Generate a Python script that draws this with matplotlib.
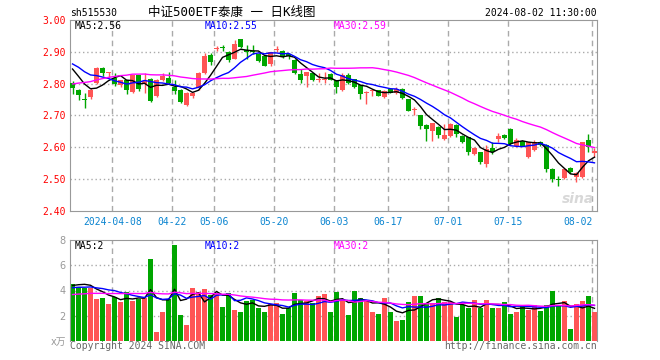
import numpy as np
import matplotlib
matplotlib.use("Agg")
import matplotlib.pyplot as plt

plt.rcParams['font.family'] = ['DejaVu Sans Mono', 'Noto Sans CJK SC']

# daily candles 2024-03-26 .. 2024-08-02 (88 trading days)
opens = [2.803, 2.779, 2.752, 2.758, 2.803, 2.848, 2.833, 2.819, 2.795, 2.811,
         2.775, 2.826, 2.800, 2.815, 2.761, 2.811, 2.817, 2.790, 2.780, 2.732,
         2.760, 2.787, 2.832, 2.890, 2.910, 2.914, 2.900, 2.878, 2.939, 2.905,
         2.903, 2.892, 2.886, 2.862, 2.907, 2.902, 2.893, 2.873, 2.829, 2.824,
         2.832, 2.812, 2.811, 2.829, 2.811, 2.781, 2.826, 2.814, 2.795, 2.770,
         2.777, 2.779, 2.758, 2.782, 2.772, 2.784, 2.751, 2.718, 2.701, 2.670,
         2.652, 2.663, 2.626, 2.636, 2.670, 2.636, 2.631, 2.579, 2.584, 2.548,
         2.597, 2.626, 2.639, 2.657, 2.603, 2.621, 2.569, 2.593, 2.616, 2.607,
         2.532, 2.500, 2.503, 2.534, 2.506, 2.506, 2.623, 2.583]
highs = [2.808, 2.782, 2.772, 2.786, 2.852, 2.853, 2.836, 2.834, 2.812, 2.813,
         2.828, 2.828, 2.834, 2.817, 2.815, 2.834, 2.837, 2.810, 2.782, 2.774,
         2.775, 2.836, 2.895, 2.895, 2.918, 2.923, 2.902, 2.938, 2.941, 2.923,
         2.923, 2.896, 2.888, 2.901, 2.918, 2.905, 2.896, 2.878, 2.845, 2.838,
         2.834, 2.834, 2.837, 2.834, 2.813, 2.835, 2.834, 2.816, 2.797, 2.777,
         2.782, 2.781, 2.779, 2.784, 2.790, 2.786, 2.752, 2.728, 2.703, 2.672,
         2.678, 2.668, 2.673, 2.675, 2.673, 2.638, 2.633, 2.600, 2.586, 2.607,
         2.616, 2.645, 2.641, 2.660, 2.628, 2.623, 2.618, 2.623, 2.621, 2.609,
         2.534, 2.511, 2.535, 2.537, 2.522, 2.618, 2.641, 2.597]
lows = [2.769, 2.749, 2.724, 2.751, 2.800, 2.824, 2.822, 2.793, 2.790, 2.767,
        2.772, 2.778, 2.772, 2.743, 2.758, 2.808, 2.799, 2.767, 2.739, 2.730,
        2.755, 2.780, 2.831, 2.860, 2.902, 2.902, 2.869, 2.876, 2.913, 2.876,
        2.892, 2.868, 2.855, 2.857, 2.899, 2.881, 2.876, 2.830, 2.803, 2.790,
        2.808, 2.805, 2.803, 2.811, 2.772, 2.778, 2.800, 2.786, 2.751, 2.737,
        2.761, 2.760, 2.755, 2.770, 2.768, 2.752, 2.713, 2.701, 2.657, 2.621,
        2.621, 2.628, 2.624, 2.634, 2.632, 2.614, 2.576, 2.576, 2.548, 2.537,
        2.579, 2.616, 2.626, 2.608, 2.600, 2.603, 2.567, 2.590, 2.603, 2.522,
        2.490, 2.480, 2.501, 2.520, 2.490, 2.504, 2.586, 2.569]
closes = [2.786, 2.765, 2.750, 2.779, 2.850, 2.834, 2.834, 2.798, 2.810, 2.780,
          2.826, 2.782, 2.808, 2.746, 2.813, 2.824, 2.801, 2.777, 2.743, 2.772,
          2.770, 2.834, 2.886, 2.869, 2.912, 2.912, 2.874, 2.926, 2.916, 2.899,
          2.901, 2.871, 2.857, 2.899, 2.910, 2.884, 2.888, 2.834, 2.810, 2.837,
          2.811, 2.814, 2.815, 2.813, 2.790, 2.827, 2.803, 2.790, 2.767, 2.772,
          2.781, 2.762, 2.777, 2.772, 2.782, 2.754, 2.715, 2.721, 2.668, 2.657,
          2.676, 2.639, 2.639, 2.673, 2.642, 2.616, 2.586, 2.597, 2.555, 2.595,
          2.586, 2.636, 2.628, 2.610, 2.623, 2.605, 2.616, 2.618, 2.607, 2.532,
          2.499, 2.498, 2.532, 2.522, 2.519, 2.616, 2.600, 2.588]
# volume, 万手
volumes = [4.49, 4.30, 4.22, 4.22, 3.36, 3.44, 2.96, 3.49, 3.12, 3.87,
           3.20, 3.36, 3.41, 6.50, 0.73, 2.31, 3.33, 7.64, 2.02, 1.29,
           4.17, 3.92, 4.09, 3.68, 3.76, 2.72, 3.84, 2.47, 2.31, 3.20,
           3.28, 2.63, 2.31, 2.90, 3.01, 2.15, 2.63, 3.84, 3.23, 3.20,
           2.98, 3.60, 3.71, 2.31, 3.85, 3.28, 2.07, 4.00, 3.44, 3.23,
           2.31, 2.15, 3.44, 2.31, 1.59, 1.67, 3.12, 3.60, 3.53, 3.04,
           3.04, 3.44, 3.12, 3.12, 1.91, 2.88, 2.64, 3.28, 2.64, 3.28,
           2.64, 2.64, 3.12, 2.15, 2.31, 2.88, 2.48, 2.88, 2.40, 2.88,
           3.93, 2.80, 3.20, 0.94, 2.96, 3.20, 3.53, 2.31]

# days before the window, only used to warm up the moving averages
prior_closes = [2.68, 2.69, 2.70, 2.69, 2.71, 2.72, 2.71, 2.73, 2.74, 2.73,
                2.78, 2.80, 2.81, 2.83, 2.82, 2.84, 2.83, 2.85, 2.84, 2.85,
                2.87, 2.89, 2.88, 2.87, 2.88, 2.88, 2.87, 2.854, 2.84]
prior_volumes = [3.2, 3.6, 3.0, 3.5, 3.3, 3.8, 3.1, 3.4, 3.6, 3.2,
                 3.5, 3.3, 3.7, 3.4, 3.2, 3.6, 3.5, 3.3, 3.4, 3.6,
                 3.9, 4.2, 4.0, 4.1, 4.0, 4.0, 4.06, 4.6, 4.84]

tick_idx = [7, 17, 24, 34, 44, 53, 63, 73, 87]
tick_labels = ['2024-04-08', '04-22', '05-06', '05-20', '06-03',
               '06-17', '07-01', '07-15', '08-02']

RED = '#ff5555'
GREEN = '#00a600'
GRID = '#aaaaaa'
W, H = 660, 360


def moving_avg(prior, values, n):
    full = np.concatenate([prior, values])
    out = np.convolve(full, np.ones(n) / n, mode='valid')
    return out[-len(values):]


o, h, l, c = (np.array(a) for a in (opens, highs, lows, closes))
vol = np.array(volumes)
x = np.arange(len(c))
colors = np.where(c >= o, RED, GREEN)

fig = plt.figure(figsize=(W / 100, H / 100), dpi=100)
ax = fig.add_axes([70 / W, 1 - 211 / H, 527 / W, 191 / H])
axv = fig.add_axes([70 / W, 1 - 341 / H, 527 / W, 101 / H])

gx = np.array(tick_idx) - 0.35
for a in (ax, axv):
    a.set_xlim(-0.42, 87.42)
    for g in gx:
        a.axvline(g, color=GRID, lw=1, ls=(0, (4, 3)), zorder=0)
    for s in a.spines.values():
        s.set_color('#999999')
    a.tick_params(length=0)
axv.spines['bottom'].set_visible(False)

# ---- price panel
ax.set_ylim(2.40, 3.00)
for p in (2.5, 2.6, 2.7, 2.8, 2.9):
    ax.axhline(p, color=GRID, lw=1, ls=(0, (1, 2)), zorder=0)
ax.vlines(x, l, h, colors=colors, lw=1, zorder=2)
body = np.maximum(np.abs(c - o), 0.003)
ax.bar(x, body, bottom=np.minimum(o, c), width=0.8, color=colors, lw=0, zorder=3)
ax.plot(x, moving_avg(prior_closes, c, 5), color='black', lw=1, zorder=4)
ax.plot(x, moving_avg(prior_closes, c, 10), color='blue', lw=1, zorder=4)
ax.plot(x, moving_avg(prior_closes, c, 30), color='magenta', lw=1, zorder=4)

ax.set_yticks([2.4, 2.5, 2.6, 2.7, 2.8, 2.9, 3.0])
ax.set_yticklabels([f'{v:.2f}' for v in ax.get_yticks()], color='red', fontsize=7)
ax.tick_params(axis='y', pad=3)
ax.set_xticks(gx)
ax.set_xticklabels(tick_labels, color='#0a84d0', fontsize=7)
ax.tick_params(axis='x', pad=4.5)
ax.get_xticklabels()[-1].set_ha('right')

ax.text(5 / 527, 1 - 6 / 191, 'MA5:2.56', transform=ax.transAxes, fontsize=7, va='center')
ax.text(135 / 527, 1 - 6 / 191, 'MA10:2.55', transform=ax.transAxes, fontsize=7,
        va='center', color='blue')
ax.text(264 / 527, 1 - 6 / 191, 'MA30:2.59', transform=ax.transAxes, fontsize=7,
        va='center', color='magenta')
ax.text(0.995, 0.04, 'sina', transform=ax.transAxes, fontsize=10, ha='right',
        color='#d8d8d8', fontweight='bold', style='italic', family='DejaVu Sans')

# ---- volume panel
axv.set_ylim(0, 8)
for p in (2, 4, 6):
    axv.axhline(p, color=GRID, lw=1, ls=(0, (1, 2)), zorder=0)
axv.bar(x, vol, width=0.8, color=colors, lw=0, zorder=2)
axv.plot(x, moving_avg(prior_volumes, vol, 5), color='black', lw=1, zorder=4)
axv.plot(x, moving_avg(prior_volumes, vol, 10), color='blue', lw=1, zorder=4)
axv.plot(x, moving_avg(prior_volumes, vol, 30), color='magenta', lw=1, zorder=4)
axv.set_xticks(gx)
axv.set_xticklabels([])
axv.set_yticks([0, 2, 4, 6, 8])
axv.set_yticklabels(['x万', '2', '4', '6', '8'], color='#999999', fontsize=7,
                    family=['DejaVu Sans', 'Noto Sans CJK SC'])
axv.tick_params(axis='y', pad=3)

axv.text(5 / 527, 1 - 6 / 101, 'MA5:2', transform=axv.transAxes, fontsize=7, va='center')
axv.text(135 / 527, 1 - 6 / 101, 'MA10:2', transform=axv.transAxes, fontsize=7,
         va='center', color='blue')
axv.text(264 / 527, 1 - 6 / 101, 'MA30:2', transform=axv.transAxes, fontsize=7,
         va='center', color='magenta')

# ---- header / footer
fig.text(70 / W, 1 - 13 / H, 'sh515530', fontsize=7, va='center')
fig.text(232 / W, 1 - 12 / H, '中证500ETF泰康 一 日K线图', fontsize=9, va='center', ha='center')
fig.text(597 / W, 1 - 13 / H, '2024-08-02 11:30:00', fontsize=7, va='center', ha='right')
fig.text(70 / W, 1 - 346 / H, 'Copyright 2024 SINA.COM', fontsize=7, va='center', color='#666666')
fig.text(597 / W, 1 - 346 / H, 'http://finance.sina.com.cn', fontsize=7, va='center',
         ha='right', color='#666666')

fig.savefig('out.png', dpi=100)
